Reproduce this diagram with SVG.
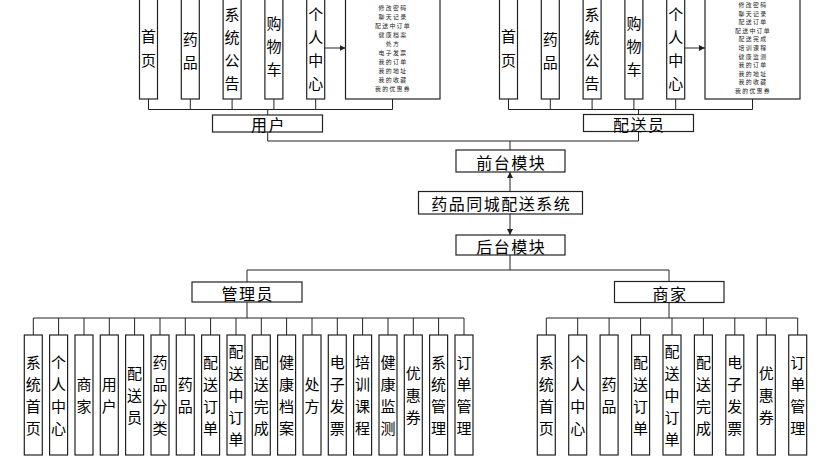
<svg xmlns="http://www.w3.org/2000/svg" width="824" height="463" viewBox="0 0 824 463">
<defs>
<style>
.box{fill:#fff;stroke:#222;stroke-width:1.2}
.ln{fill:none;stroke:#222;stroke-width:1}
.v{font-family:"Noto Sans CJK SC","Noto Sans",sans-serif;font-size:15px;text-anchor:middle;dominant-baseline:central;fill:#000}
.lb{font-family:"Noto Sans CJK SC","Noto Sans",sans-serif;font-size:16px;text-anchor:middle;dominant-baseline:central;fill:#000;letter-spacing:1.5px}
.sm{font-family:"Noto Sans CJK SC","Noto Sans",sans-serif;font-size:5.9px;text-anchor:middle;dominant-baseline:central;fill:#222;letter-spacing:1.3px}
</style>
<marker id="ah" viewBox="0 0 6 6" refX="6" refY="3" markerWidth="6" markerHeight="6" markerUnits="userSpaceOnUse" orient="auto">
<path d="M0,0 L6,3 L0,6 Z" fill="#222"/>
</marker>
</defs>

<g id="connectors">
<path class="ln" d="M148.5,99 V109.5 M190.3,99 V109.5 M232.1,99 V109.5 M273.9,99 V109.5 M315.7,99 V109.5 M392.5,99 V109.5 M148.5,109.5 H392.5 M267.7,109.5 V115"/>
<path class="ln" d="M508.5,99 V109.5 M550.3,99 V109.5 M592.1,99 V109.5 M633.9,99 V109.5 M675.7,99 V109.5 M752.5,99 V109.5 M508.5,109.5 H752.5 M638.5,109.5 V114.5"/>
<line class="ln" x1="324.5" y1="48" x2="345.5" y2="48" marker-end="url(#ah)"/>
<line class="ln" x1="684.5" y1="48" x2="705" y2="48" marker-end="url(#ah)"/>
<path class="ln" d="M267.7,132 V141 H638.5 V131.5 M510,141 V150"/>
<line class="ln" x1="510" y1="191.5" x2="510" y2="172" marker-end="url(#ah)"/>
<line class="ln" x1="510" y1="214" x2="510" y2="235" marker-end="url(#ah)"/>
<path class="ln" d="M510,255 V270 M247,282 V270 H669 V281.5"/>
<path class="ln" d="M247,302 V318 M33.3,318 H464 M33.3,318 V335 M58.6,318 V335 M84,318 V335 M109.3,318 V335 M134.6,318 V335 M160,318 V335 M185.3,318 V335 M210.6,318 V335 M236,318 V335 M261.3,318 V335 M286.6,318 V335 M312,318 V335 M337.3,318 V335 M362.6,318 V335 M388,318 V335 M413.3,318 V335 M438.6,318 V335 M464,318 V335"/>
<path class="ln" d="M669,302.5 V318 M546.3,318 H797.7 M546.3,318 V335 M577.7,318 V335 M609.1,318 V335 M640.6,318 V335 M672,318 V335 M703.4,318 V335 M734.8,318 V335 M766.3,318 V335 M797.7,318 V335"/>
</g>

<g id="u-home"><rect class="box" x="139.5" y="-4" width="18" height="103"/><text class="v"><tspan x="148.5" y="35">首</tspan><tspan x="148.5" y="59">页</tspan></text></g>
<g id="u-drug"><rect class="box" x="181.3" y="-4" width="18" height="103"/><text class="v"><tspan x="190.3" y="38">药</tspan><tspan x="190.3" y="61">品</tspan></text></g>
<g id="u-notice"><rect class="box" x="223.1" y="-4" width="18" height="103"/><text class="v"><tspan x="232.1" y="13">系</tspan><tspan x="232.1" y="36">统</tspan><tspan x="232.1" y="59">公</tspan><tspan x="232.1" y="82">告</tspan></text></g>
<g id="u-cart"><rect class="box" x="264.9" y="-4" width="18" height="103"/><text class="v"><tspan x="273.9" y="22">购</tspan><tspan x="273.9" y="45">物</tspan><tspan x="273.9" y="68">车</tspan></text></g>
<g id="u-center"><rect class="box" x="306.7" y="-4" width="18" height="103"/><text class="v"><tspan x="315.7" y="13">个</tspan><tspan x="315.7" y="36">人</tspan><tspan x="315.7" y="59">中</tspan><tspan x="315.7" y="82">心</tspan></text></g>
<g id="u-list"><rect class="box" x="345.5" y="-4" width="94.5" height="103"/>
<text class="sm"><tspan x="393" y="7">修改密码</tspan><tspan x="393" y="16">聊天记录</tspan><tspan x="393" y="25">配送中订单</tspan><tspan x="393" y="34">健康档案</tspan><tspan x="393" y="43">处方</tspan><tspan x="393" y="52">电子发票</tspan><tspan x="393" y="61">我的订单</tspan><tspan x="393" y="70">我的地址</tspan><tspan x="393" y="79">我的收藏</tspan><tspan x="393" y="88">我的优惠券</tspan></text></g>
<g id="user"><rect class="box" x="212.5" y="115" width="110" height="17"/><text class="lb" x="268.5" y="124">用户</text></g>

<g id="d-home"><rect class="box" x="499.5" y="-4" width="18" height="103"/><text class="v"><tspan x="508.5" y="35">首</tspan><tspan x="508.5" y="59">页</tspan></text></g>
<g id="d-drug"><rect class="box" x="541.3" y="-4" width="18" height="103"/><text class="v"><tspan x="550.3" y="38">药</tspan><tspan x="550.3" y="61">品</tspan></text></g>
<g id="d-notice"><rect class="box" x="583.1" y="-4" width="18" height="103"/><text class="v"><tspan x="592.1" y="13">系</tspan><tspan x="592.1" y="36">统</tspan><tspan x="592.1" y="59">公</tspan><tspan x="592.1" y="82">告</tspan></text></g>
<g id="d-cart"><rect class="box" x="624.9" y="-4" width="18" height="103"/><text class="v"><tspan x="633.9" y="22">购</tspan><tspan x="633.9" y="45">物</tspan><tspan x="633.9" y="68">车</tspan></text></g>
<g id="d-center"><rect class="box" x="666.7" y="-4" width="18" height="103"/><text class="v"><tspan x="675.7" y="13">个</tspan><tspan x="675.7" y="36">人</tspan><tspan x="675.7" y="59">中</tspan><tspan x="675.7" y="82">心</tspan></text></g>
<g id="d-list"><rect class="box" x="705" y="-4" width="95" height="103"/>
<text class="sm"><tspan x="753" y="4">修改密码</tspan><tspan x="753" y="12.6">聊天记录</tspan><tspan x="753" y="21.2">配送订单</tspan><tspan x="753" y="29.8">配送中订单</tspan><tspan x="753" y="38.4">配送完成</tspan><tspan x="753" y="47">培训课程</tspan><tspan x="753" y="55.6">健康监测</tspan><tspan x="753" y="64.2">我的订单</tspan><tspan x="753" y="72.8">我的地址</tspan><tspan x="753" y="81.4">我的收藏</tspan><tspan x="753" y="90">我的优惠券</tspan></text></g>
<g id="courier"><rect class="box" x="583.5" y="114.5" width="110" height="17"/><text class="lb" x="639.3" y="123.5">配送员</text></g>

<g id="front"><rect class="box" x="456" y="150" width="109" height="22"/><text class="lb" x="511.3" y="161.5">前台模块</text></g>
<g id="system"><rect class="box" x="418.5" y="191.5" width="164" height="22.5"/><text class="lb" x="501.3" y="203">药品同城配送系统</text></g>
<g id="back"><rect class="box" x="456" y="235" width="109" height="20"/><text class="lb" x="511.3" y="245.5">后台模块</text></g>
<g id="admin"><rect class="box" x="192" y="282" width="110" height="20"/><text class="lb" x="247.8" y="292.5">管理员</text></g>
<g id="merchant"><rect class="box" x="614.5" y="281.5" width="109.5" height="21"/><text class="lb" x="670" y="292.5">商家</text></g>

<g id="a1"><rect class="box" x="24.3" y="335" width="18" height="120"/><text class="v"><tspan x="33.3" y="361.2">系</tspan><tspan x="33.3" y="383.2">统</tspan><tspan x="33.3" y="405.2">首</tspan><tspan x="33.3" y="427.2">页</tspan></text></g>
<g id="a2"><rect class="box" x="49.6" y="335" width="18" height="120"/><text class="v"><tspan x="58.6" y="361.2">个</tspan><tspan x="58.6" y="383.2">人</tspan><tspan x="58.6" y="405.2">中</tspan><tspan x="58.6" y="427.2">心</tspan></text></g>
<g id="a3"><rect class="box" x="75" y="335" width="18" height="120"/><text class="v"><tspan x="84" y="383.2">商</tspan><tspan x="84" y="405.2">家</tspan></text></g>
<g id="a4"><rect class="box" x="100.3" y="335" width="18" height="120"/><text class="v"><tspan x="109.3" y="383.2">用</tspan><tspan x="109.3" y="405.2">户</tspan></text></g>
<g id="a5"><rect class="box" x="125.6" y="335" width="18" height="120"/><text class="v"><tspan x="134.6" y="372.2">配</tspan><tspan x="134.6" y="394.2">送</tspan><tspan x="134.6" y="416.2">员</tspan></text></g>
<g id="a6"><rect class="box" x="151" y="335" width="18" height="120"/><text class="v"><tspan x="160" y="361.2">药</tspan><tspan x="160" y="383.2">品</tspan><tspan x="160" y="405.2">分</tspan><tspan x="160" y="427.2">类</tspan></text></g>
<g id="a7"><rect class="box" x="176.3" y="335" width="18" height="120"/><text class="v"><tspan x="185.3" y="383.2">药</tspan><tspan x="185.3" y="405.2">品</tspan></text></g>
<g id="a8"><rect class="box" x="201.6" y="335" width="18" height="120"/><text class="v"><tspan x="210.6" y="361.2">配</tspan><tspan x="210.6" y="383.2">送</tspan><tspan x="210.6" y="405.2">订</tspan><tspan x="210.6" y="427.2">单</tspan></text></g>
<g id="a9"><rect class="box" x="227" y="335" width="18" height="120"/><text class="v"><tspan x="236" y="350.2">配</tspan><tspan x="236" y="372.2">送</tspan><tspan x="236" y="394.2">中</tspan><tspan x="236" y="416.2">订</tspan><tspan x="236" y="438.2">单</tspan></text></g>
<g id="a10"><rect class="box" x="252.3" y="335" width="18" height="120"/><text class="v"><tspan x="261.3" y="361.2">配</tspan><tspan x="261.3" y="383.2">送</tspan><tspan x="261.3" y="405.2">完</tspan><tspan x="261.3" y="427.2">成</tspan></text></g>
<g id="a11"><rect class="box" x="277.6" y="335" width="18" height="120"/><text class="v"><tspan x="286.6" y="361.2">健</tspan><tspan x="286.6" y="383.2">康</tspan><tspan x="286.6" y="405.2">档</tspan><tspan x="286.6" y="427.2">案</tspan></text></g>
<g id="a12"><rect class="box" x="303" y="335" width="18" height="120"/><text class="v"><tspan x="312" y="383.2">处</tspan><tspan x="312" y="405.2">方</tspan></text></g>
<g id="a13"><rect class="box" x="328.3" y="335" width="18" height="120"/><text class="v"><tspan x="337.3" y="361.2">电</tspan><tspan x="337.3" y="383.2">子</tspan><tspan x="337.3" y="405.2">发</tspan><tspan x="337.3" y="427.2">票</tspan></text></g>
<g id="a14"><rect class="box" x="353.6" y="335" width="18" height="120"/><text class="v"><tspan x="362.6" y="361.2">培</tspan><tspan x="362.6" y="383.2">训</tspan><tspan x="362.6" y="405.2">课</tspan><tspan x="362.6" y="427.2">程</tspan></text></g>
<g id="a15"><rect class="box" x="379" y="335" width="18" height="120"/><text class="v"><tspan x="388" y="361.2">健</tspan><tspan x="388" y="383.2">康</tspan><tspan x="388" y="405.2">监</tspan><tspan x="388" y="427.2">测</tspan></text></g>
<g id="a16"><rect class="box" x="404.3" y="335" width="18" height="120"/><text class="v"><tspan x="413.3" y="372.2">优</tspan><tspan x="413.3" y="394.2">惠</tspan><tspan x="413.3" y="416.2">券</tspan></text></g>
<g id="a17"><rect class="box" x="429.6" y="335" width="18" height="120"/><text class="v"><tspan x="438.6" y="361.2">系</tspan><tspan x="438.6" y="383.2">统</tspan><tspan x="438.6" y="405.2">管</tspan><tspan x="438.6" y="427.2">理</tspan></text></g>
<g id="a18"><rect class="box" x="455" y="335" width="18" height="120"/><text class="v"><tspan x="464" y="361.2">订</tspan><tspan x="464" y="383.2">单</tspan><tspan x="464" y="405.2">管</tspan><tspan x="464" y="427.2">理</tspan></text></g>

<g id="m1"><rect class="box" x="537.3" y="335" width="18" height="120"/><text class="v"><tspan x="546.3" y="361.2">系</tspan><tspan x="546.3" y="383.2">统</tspan><tspan x="546.3" y="405.2">首</tspan><tspan x="546.3" y="427.2">页</tspan></text></g>
<g id="m2"><rect class="box" x="568.7" y="335" width="18" height="120"/><text class="v"><tspan x="577.7" y="361.2">个</tspan><tspan x="577.7" y="383.2">人</tspan><tspan x="577.7" y="405.2">中</tspan><tspan x="577.7" y="427.2">心</tspan></text></g>
<g id="m3"><rect class="box" x="600.1" y="335" width="18" height="120"/><text class="v"><tspan x="609.1" y="383.2">药</tspan><tspan x="609.1" y="405.2">品</tspan></text></g>
<g id="m4"><rect class="box" x="631.6" y="335" width="18" height="120"/><text class="v"><tspan x="640.6" y="361.2">配</tspan><tspan x="640.6" y="383.2">送</tspan><tspan x="640.6" y="405.2">订</tspan><tspan x="640.6" y="427.2">单</tspan></text></g>
<g id="m5"><rect class="box" x="663" y="335" width="18" height="120"/><text class="v"><tspan x="672" y="350.2">配</tspan><tspan x="672" y="372.2">送</tspan><tspan x="672" y="394.2">中</tspan><tspan x="672" y="416.2">订</tspan><tspan x="672" y="438.2">单</tspan></text></g>
<g id="m6"><rect class="box" x="694.4" y="335" width="18" height="120"/><text class="v"><tspan x="703.4" y="361.2">配</tspan><tspan x="703.4" y="383.2">送</tspan><tspan x="703.4" y="405.2">完</tspan><tspan x="703.4" y="427.2">成</tspan></text></g>
<g id="m7"><rect class="box" x="725.8" y="335" width="18" height="120"/><text class="v"><tspan x="734.8" y="361.2">电</tspan><tspan x="734.8" y="383.2">子</tspan><tspan x="734.8" y="405.2">发</tspan><tspan x="734.8" y="427.2">票</tspan></text></g>
<g id="m8"><rect class="box" x="757.3" y="335" width="18" height="120"/><text class="v"><tspan x="766.3" y="372.2">优</tspan><tspan x="766.3" y="394.2">惠</tspan><tspan x="766.3" y="416.2">券</tspan></text></g>
<g id="m9"><rect class="box" x="788.7" y="335" width="18" height="120"/><text class="v"><tspan x="797.7" y="361.2">订</tspan><tspan x="797.7" y="383.2">单</tspan><tspan x="797.7" y="405.2">管</tspan><tspan x="797.7" y="427.2">理</tspan></text></g>
</svg>
